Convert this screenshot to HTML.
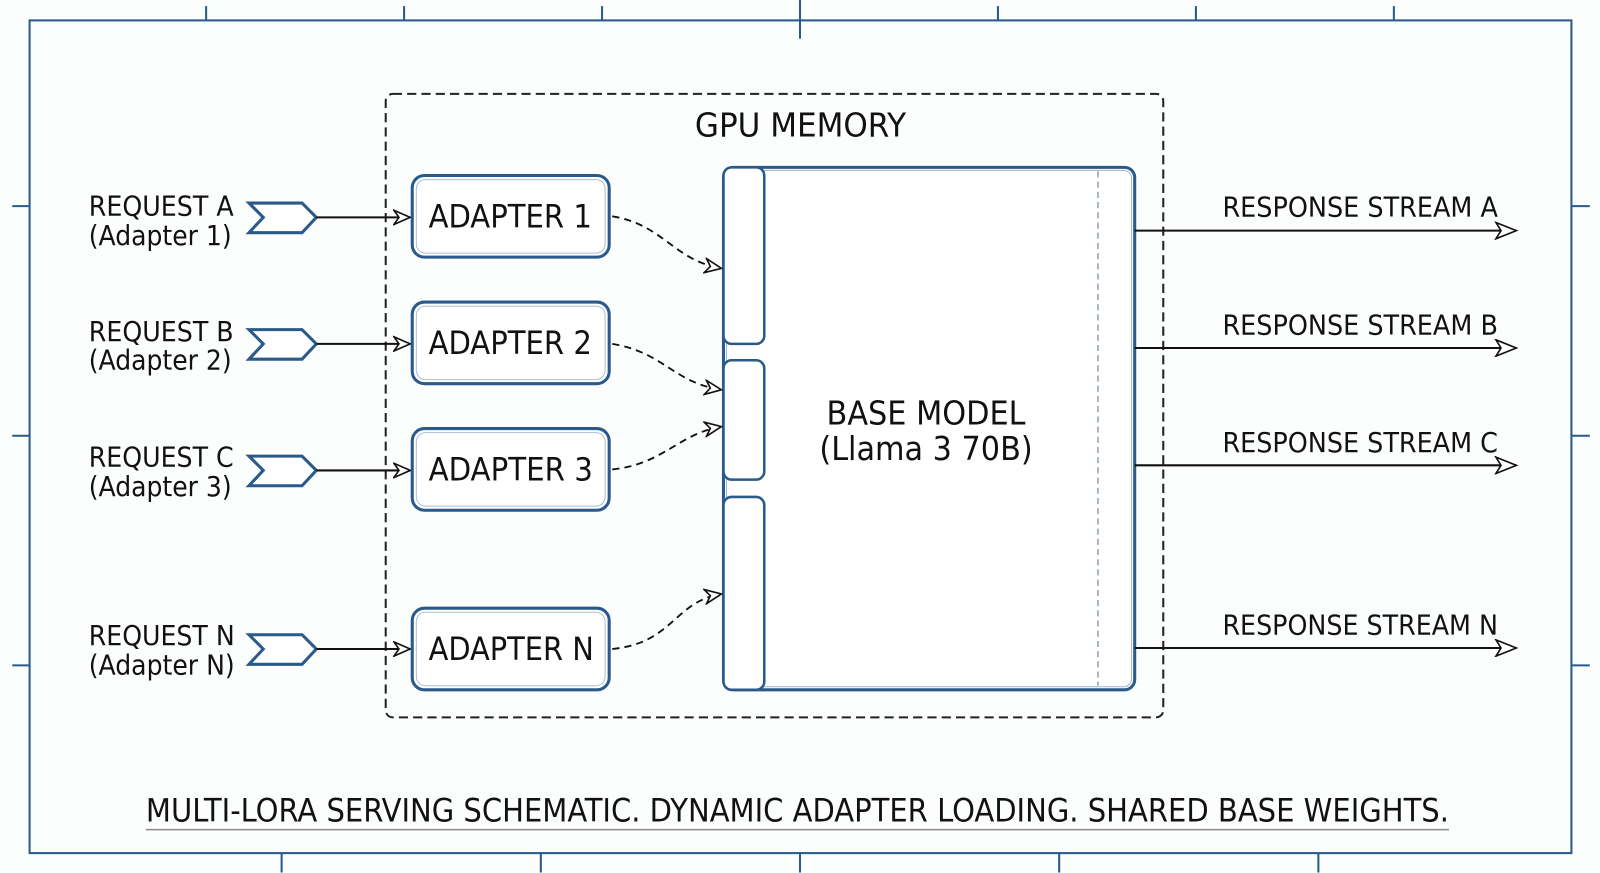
<!DOCTYPE html>
<html><head><meta charset="utf-8"><style>
html,body{margin:0;padding:0;background:#fcfdfd;width:1600px;height:873px;overflow:hidden}
svg{display:block}
text{font-family:"DejaVu Sans Condensed","DejaVu Sans","Liberation Sans",sans-serif;fill:#111}
</style></head><body>
<svg width="1600" height="873" viewBox="0 0 1568 855.5" preserveAspectRatio="none" xmlns="http://www.w3.org/2000/svg">
<defs>
<marker id="oa" markerWidth="18" markerHeight="16" refX="17" refY="8" orient="auto" markerUnits="userSpaceOnUse">
<path d="M1,1 L17,8 L1,15 L6,8 Z" fill="#fff" stroke="#111" stroke-width="1.6"/>
</marker>
<marker id="ob" markerWidth="24" markerHeight="18" refX="22" refY="9" orient="auto" markerUnits="userSpaceOnUse">
<path d="M2,1 L22,9 L2,17 L7,9 Z" fill="#fff" stroke="#111" stroke-width="1.6"/>
</marker>
</defs>
<rect x="0" y="0" width="1568" height="856" fill="#fcfdfd"/>
<g stroke="#2a5a8a" stroke-width="2" fill="none">
<rect x="29" y="20" width="1511" height="816"/>
<path d="M202 6V20M396 6V20M590 6V20M784 0V38M978 6V20M1172 6V20M1366 6V20"/>
<path d="M276 836V855M530 836V855M784 836V855M1038 836V855M1292 836V855"/>
<path d="M12 202H29M12 427H29M12 652H29M1540 202H1558M1540 427H1558M1540 652H1558"/>
</g>
<rect x="378" y="92" width="762" height="611" rx="7" fill="none" stroke="#222" stroke-width="2" stroke-dasharray="9 5"/>
<text x="681" y="134" font-size="32" textLength="207" lengthAdjust="spacingAndGlyphs">GPU MEMORY</text>
<rect x="709" y="164" width="403" height="512" rx="10" fill="#fff" stroke="#2a5a8a" stroke-width="3"/>
<rect x="712" y="167" width="397" height="506" rx="8" fill="none" stroke="#9cb5cf" stroke-width="1"/>
<g fill="#fff" stroke="#2a5a8a" stroke-width="2.5">
<rect x="709" y="164" width="40" height="173" rx="8"/>
<rect x="709" y="353" width="40" height="117" rx="8"/>
<rect x="709" y="487" width="40" height="189" rx="8"/>
</g>
<line x1="1076" y1="168" x2="1076" y2="672" stroke="#6f8aa5" stroke-width="1.2" stroke-dasharray="6 4"/>
<text x="810" y="416" font-size="32" textLength="195" lengthAdjust="spacingAndGlyphs">BASE MODEL</text>
<text x="803" y="451" font-size="32" textLength="209" lengthAdjust="spacingAndGlyphs">(Llama 3 70B)</text>
<g fill="#fff" stroke="#2a5a8a" stroke-width="3">
<rect x="404" y="172" width="193" height="80" rx="12"/>
<rect x="404" y="296" width="193" height="80" rx="12"/>
<rect x="404" y="420" width="193" height="80" rx="12"/>
<rect x="404" y="596" width="193" height="80" rx="12"/>
</g>
<g fill="none" stroke="#a9bfd6" stroke-width="1">
<rect x="408" y="176" width="185" height="72" rx="9"/>
<rect x="408" y="300" width="185" height="72" rx="9"/>
<rect x="408" y="424" width="185" height="72" rx="9"/>
<rect x="408" y="600" width="185" height="72" rx="9"/>
</g>
<g font-size="31">
<text x="420" y="223" textLength="160" lengthAdjust="spacingAndGlyphs">ADAPTER 1</text>
<text x="420" y="347" textLength="160" lengthAdjust="spacingAndGlyphs">ADAPTER 2</text>
<text x="420" y="471" textLength="161" lengthAdjust="spacingAndGlyphs">ADAPTER 3</text>
<text x="420" y="647" textLength="162" lengthAdjust="spacingAndGlyphs">ADAPTER N</text>
</g>
<g fill="none" stroke="#111" stroke-width="1.8" stroke-dasharray="7 5" marker-end="url(#oa)">
<path d="M600 212 C650 220 660 255 707 263"/>
<path d="M600 337 C650 345 660 375 707 382"/>
<path d="M600 460 C650 455 665 425 707 418"/>
<path d="M600 636 C660 630 660 590 707 582"/>
</g>
<g fill="#fff" stroke="#2a5a8a" stroke-width="3">
<polygon points="244,199 296,199 310,213 296,228 244,228 258,213"/>
<polygon points="244,323 296,323 310,337 296,352 244,352 258,337"/>
<polygon points="244,447 296,447 310,461 296,476 244,476 258,461"/>
<polygon points="244,622 296,622 310,636 296,651 244,651 258,636"/>
</g>
<g fill="none" stroke="#111" stroke-width="2" marker-end="url(#oa)">
<line x1="310" y1="213" x2="402" y2="213"/>
<line x1="310" y1="337" x2="402" y2="337"/>
<line x1="310" y1="461" x2="402" y2="461"/>
<line x1="310" y1="636" x2="402" y2="636"/>
</g>
<g font-size="27">
<text x="87" y="211" textLength="142" lengthAdjust="spacingAndGlyphs">REQUEST A</text><text x="87" y="240" textLength="140" lengthAdjust="spacingAndGlyphs">(Adapter 1)</text>
<text x="87" y="334" textLength="142" lengthAdjust="spacingAndGlyphs">REQUEST B</text><text x="87" y="362" textLength="140" lengthAdjust="spacingAndGlyphs">(Adapter 2)</text>
<text x="87" y="457" textLength="142" lengthAdjust="spacingAndGlyphs">REQUEST C</text><text x="87" y="486" textLength="140" lengthAdjust="spacingAndGlyphs">(Adapter 3)</text>
<text x="87" y="632" textLength="143" lengthAdjust="spacingAndGlyphs">REQUEST N</text><text x="87" y="661" textLength="143" lengthAdjust="spacingAndGlyphs">(Adapter N)</text>
</g>
<g fill="none" stroke="#111" stroke-width="2" marker-end="url(#ob)">
<line x1="1112" y1="226" x2="1486" y2="226"/>
<line x1="1112" y1="341" x2="1486" y2="341"/>
<line x1="1112" y1="456" x2="1486" y2="456"/>
<line x1="1112" y1="635" x2="1486" y2="635"/>
</g>
<g font-size="27">
<text x="1198" y="212" textLength="270" lengthAdjust="spacingAndGlyphs">RESPONSE STREAM A</text>
<text x="1198" y="328" textLength="270" lengthAdjust="spacingAndGlyphs">RESPONSE STREAM B</text>
<text x="1198" y="443" textLength="270" lengthAdjust="spacingAndGlyphs">RESPONSE STREAM C</text>
<text x="1198" y="622" textLength="270" lengthAdjust="spacingAndGlyphs">RESPONSE STREAM N</text>
</g>
<text x="143" y="805" font-size="31" textLength="1277" lengthAdjust="spacingAndGlyphs">MULTI-LORA SERVING SCHEMATIC. DYNAMIC ADAPTER LOADING. SHARED BASE WEIGHTS.</text>
<line x1="143" y1="813" x2="1420" y2="813" stroke="#888" stroke-width="1.5"/>
</svg>
</body></html>
